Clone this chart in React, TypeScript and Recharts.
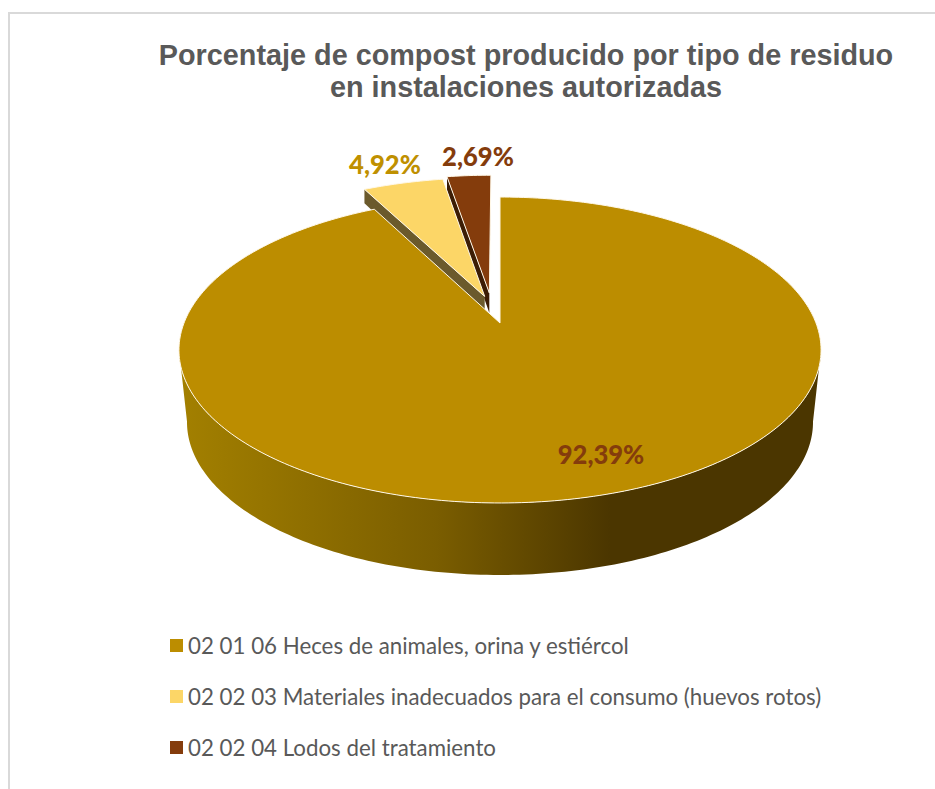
import { PieChart, Pie, Legend } from "recharts";

const categories = [
  "02 01 06 Heces de animales, orina y estiércol",
  "02 02 03 Materiales inadecuados para el consumo (huevos rotos)",
  "02 02 04 Lodos del tratamiento",
];
const shares = [92.39, 4.92, 2.69];
const sliceColors = ["#BC8D00", "#FCD667", "#843C0C"];
const labelColors = ["#843C0C", "#BF9000", "#843C0C"];
const wallColors = ["url(#wallShade)", "#6B5A2C", "#3C1D05"];
const titleLines = [
  "Porcentaje de compost producido por tipo de residuo",
  "en instalaciones autorizadas",
];

// label centres, same order as categories
const labelSpots = [
  [601, 454],
  [385, 164],
  [478, 156],
];

// how far each slice is pulled out, in units of the radius
const pullOffsets = [
  [0, 0],
  [-0.05, 0.185],
  [-0.035, 0.21],
];

// later entries paint first, so the big slice ends up over the pulled-out ones
const pieData = categories
  .map((name, i) => ({ name, value: shares[i], fill: sliceColors[i] }))
  .reverse();

const TILT = 0.469;
const PERSPECTIVE = 0.1765;
const DEPTH = 72;
const BASE_SCALE = 0.975;
// the far walls are strongly foreshortened
const FAR_DEPTH = 14;
const APEX_DEPTH = 20;

type Pt = [number, number];
const rad = (deg: number) => (deg * Math.PI) / 180;

function Slab(props: any) {
  const { cx, cy, outerRadius: R, startAngle, endAngle, fill, percent, name } = props;
  const slice = categories.indexOf(name);
  const [ox, oy] = pullOffsets[slice];

  // flat circle coordinates -> tilted plane with a little perspective
  const project = (u: number, v: number): Pt => {
    const w = 1 + PERSPECTIVE * v;
    return [cx + (R * u) / w, cy - (R * TILT * v) / w];
  };
  const onRim = (a: number) => project(ox + Math.cos(rad(a)), oy + Math.sin(rad(a)));
  const below = ([x, y]: Pt): Pt => [cx + (x - cx) * BASE_SCALE, y + DEPTH];
  const rim = (from: number, to: number) => {
    const n = Math.max(2, Math.ceil(Math.abs(to - from)));
    return Array.from({ length: n + 1 }, (_, i) => onRim(from + ((to - from) * i) / n));
  };
  const toPath = (pts: Pt[]) => "M" + pts.map((p) => p[0].toFixed(2) + " " + p[1].toFixed(2)).join("L") + "Z";

  const apex = project(ox, oy);
  const top = [apex, ...rim(startAngle, endAngle)];

  let wall: Pt[];
  if (percent > 0.5) {
    // front of the drum, between the two silhouette points of the ellipse
    const front = rim(190, 350);
    wall = [...front, ...front.slice().reverse().map(below)];
  } else {
    const corner = onRim(endAngle);
    wall = [apex, corner, [corner[0], corner[1] + FAR_DEPTH], [apex[0], apex[1] + APEX_DEPTH]];
  }

  return (
    <g>
      <path d={toPath(wall)} fill={wallColors[slice]} />
      <path d={toPath(top)} fill={fill} stroke="#FFF8E8" strokeWidth={1} strokeLinejoin="round" />
    </g>
  );
}

function sliceLabel(props: any) {
  const i = categories.indexOf(props.name);
  const [x, y] = labelSpots[i];
  return (
    <text
      x={x}
      y={y}
      textAnchor="middle"
      dominantBaseline="central"
      fill={labelColors[i]}
      style={{ fontFamily: "Lato", fontWeight: 900, fontSize: 25.6 }}
    >
      {props.value.toFixed(2).replace(".", ",") + "%"}
    </text>
  );
}

function LegendRows(props: any) {
  const rows = categories.map((name) => (props.payload ?? []).find((row: any) => row.value === name)).filter(Boolean);
  return (
    <div style={{ fontFamily: "Lato", fontSize: 22.3, color: "#595959" }}>
      {rows.map((row: any) => (
        <div key={row.value} style={{ display: "flex", alignItems: "center", height: 51, whiteSpace: "nowrap" }}>
          <span style={{ width: 13, height: 13, marginRight: 5, background: row.color, flex: "none" }} />
          {row.value}
        </div>
      ))}
    </div>
  );
}

export default function App() {
  return (
    <div style={{ position: "absolute", left: 0, top: 0, width: 935, height: 789, overflow: "hidden", background: "#fff" }}>
      <div
        style={{
          position: "absolute",
          left: 8,
          top: 12,
          right: 0,
          bottom: 0,
          borderTop: "2px solid #D9D9D9",
          borderLeft: "2px solid #D9D9D9",
        }}
      />
      <PieChart width={935} height={789} margin={{ top: 0, right: 0, bottom: 0, left: 0 }} style={{ position: "absolute" }}>
        <defs>
          <linearGradient id="wallShade" gradientUnits="userSpaceOnUse" x1={179} y1={0} x2={610} y2={0}>
            <stop offset="0" stopColor="#A38000" />
            <stop offset="0.6" stopColor="#7A5D00" />
            <stop offset="1" stopColor="#4B3600" />
          </linearGradient>
        </defs>
        <text textAnchor="middle" fill="#595959" style={{ fontFamily: "Liberation Sans", fontWeight: 700, fontSize: 28.8 }}>
          <tspan x={526} y={65}>{titleLines[0]}</tspan>
          <tspan x={526} y={97}>{titleLines[1]}</tspan>
        </text>
        <Pie
          data={pieData}
          dataKey="value"
          nameKey="name"
          cx={500}
          cy={323}
          outerRadius={316}
          startAngle={90}
          endAngle={450}
          shape={Slab}
          inactiveShape={Slab}
          label={sliceLabel}
          labelLine={false}
          isAnimationActive={false}
        />
        <Legend
          content={LegendRows}
          wrapperStyle={{ position: "absolute", left: 170, top: 620, width: 700, bottom: "auto" }}
        />
      </PieChart>
    </div>
  );
}
